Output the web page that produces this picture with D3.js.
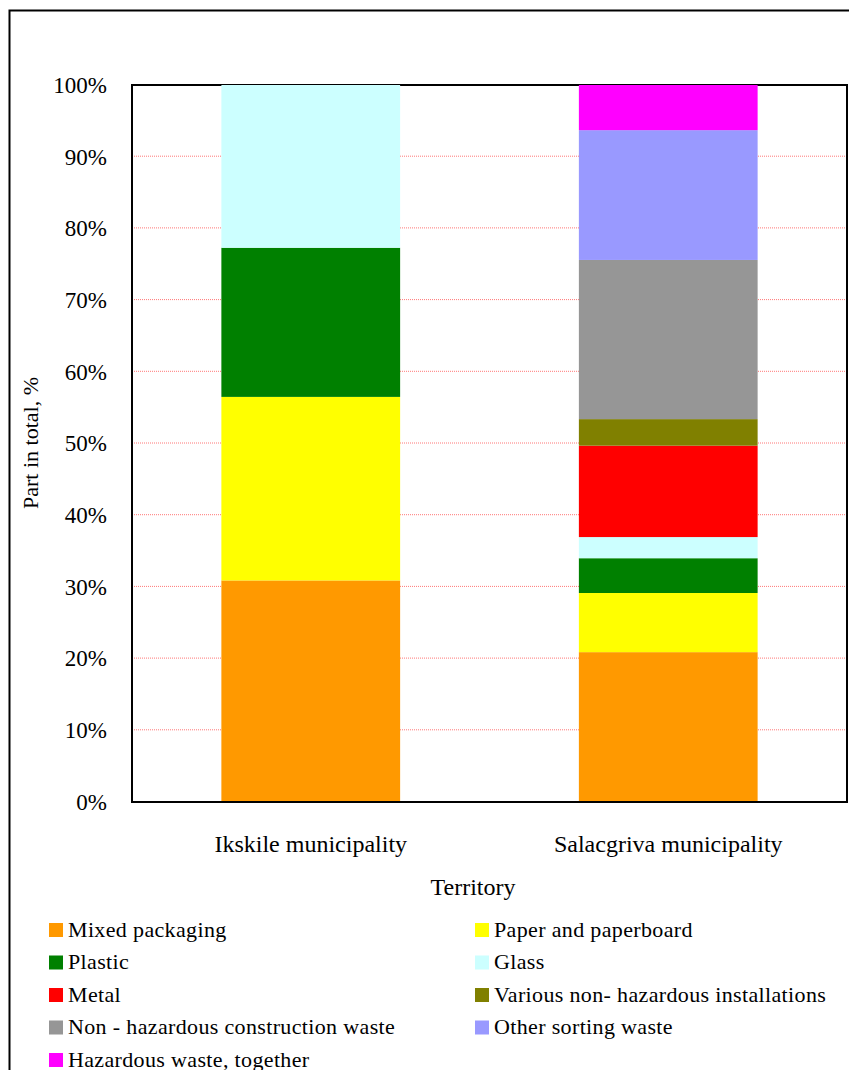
<!DOCTYPE html>
<html>
<head>
<meta charset="utf-8">
<script src="https://cdn.jsdelivr.net/npm/d3@7"></script>
<style>
  html, body { margin: 0; padding: 0; background: #fff; }
  svg { display: block; }
  svg text { font-family: "Liberation Serif", Tinos, "Times New Roman", Times, "DejaVu Serif", serif !important; fill: #000; }
</style>
</head>
<body>
<svg id="chart" width="849" height="1070"></svg>
<script>
// Territories on the x axis
const territories = ["Ikskile municipality", "Salacgriva municipality"];

// Waste fractions, bottom to top of each stack
const fractions = [
  "Mixed packaging",
  "Paper and paperboard",
  "Plastic",
  "Glass",
  "Metal",
  "Various non- hazardous installations",
  "Non - hazardous construction waste",
  "Other sorting waste",
  "Hazardous waste, together"
];

// Share of total, % (same order as fractions)
const ikskileShares    = [30.9, 25.6, 20.8, 22.7, 0, 0, 0, 0, 0];
const salacgrivaShares = [20.9, 8.25, 4.85, 2.95, 12.75, 3.7, 22.2, 18.1, 6.3];

const fractionColors = [
  "#ff9900", "#ffff00", "#008000", "#ccffff", "#ff0000",
  "#808000", "#969696", "#9999ff", "#ff00ff"
];

const yTicks = [0, 10, 20, 30, 40, 50, 60, 70, 80, 90, 100];

const svg = d3.select("#chart");

// outer frame
svg.append("rect")
  .attr("x", 9.5).attr("y", 10.5)
  .attr("width", 900).attr("height", 1100)
  .attr("fill", "none").attr("stroke", "#000").attr("stroke-width", 2);

const plot = { left: 132, top: 85, right: 847, bottom: 802 };

const x = d3.scaleBand()
  .domain(territories)
  .range([plot.left, plot.right])
  .paddingInner(0.5)
  .paddingOuter(0.25);

const y = d3.scaleLinear()
  .domain([0, 100])
  .range([plot.bottom, plot.top]);

const color = d3.scaleOrdinal().domain(fractions).range(fractionColors);

// grid lines
svg.append("g")
  .selectAll("line")
  .data(yTicks.filter(t => t > 0))
  .join("line")
  .attr("x1", plot.left).attr("x2", plot.right)
  .attr("y1", d => y(d) - 0.5).attr("y2", d => y(d) - 0.5)
  .attr("stroke", "#ff7777")
  .attr("stroke-width", 1)
  .attr("stroke-dasharray", "1,1");

// plot area border (right / top)
svg.append("rect")
  .attr("x", plot.left).attr("y", plot.top)
  .attr("width", plot.right - plot.left).attr("height", plot.bottom - plot.top)
  .attr("fill", "none").attr("stroke", "#000").attr("stroke-width", 2);

// stacked data
const rows = territories.map((t, i) => {
  const vals = i === 0 ? ikskileShares : salacgrivaShares;
  const r = { territory: t };
  fractions.forEach((f, j) => r[f] = vals[j]);
  return r;
});
const stacked = d3.stack().keys(fractions)(rows);

svg.append("g")
  .selectAll("g")
  .data(stacked)
  .join("g")
  .attr("fill", d => color(d.key))
  .selectAll("rect")
  .data(d => d.filter(s => s[1] - s[0] > 0))
  .join("rect")
  .attr("x", d => x(d.data.territory))
  .attr("width", x.bandwidth())
  .attr("y", d => y(d[1]))
  .attr("height", d => y(d[0]) - y(d[1]));

// axes lines
svg.append("line")
  .attr("x1", plot.left).attr("x2", plot.left)
  .attr("y1", plot.top).attr("y2", plot.bottom + 1)
  .attr("stroke", "#000").attr("stroke-width", 2);
svg.append("line")
  .attr("x1", plot.left - 1).attr("x2", plot.right)
  .attr("y1", plot.bottom).attr("y2", plot.bottom)
  .attr("stroke", "#000").attr("stroke-width", 2);

// y axis labels
const yAxis = d3.axisLeft(y)
  .tickValues(yTicks)
  .tickFormat(d => d + "%")
  .tickSize(0)
  .tickPadding(25);
const ya = svg.append("g")
  .attr("transform", `translate(${plot.left},0)`)
  .call(yAxis);
ya.select(".domain").remove();
ya.selectAll("text")
  .attr("font-size", 23)
  .attr("fill", "#000");

// x axis labels
const xAxis = d3.axisBottom(x).tickSize(0);
const xa = svg.append("g")
  .attr("transform", `translate(0,${plot.bottom})`)
  .call(xAxis);
xa.select(".domain").remove();
xa.selectAll("text")
  .attr("y", 50)
  .attr("dy", 0)
  .attr("font-size", 24)
  .attr("fill", "#000");

// axis titles
svg.append("text")
  .attr("transform", "translate(38,443) rotate(-90)")
  .attr("text-anchor", "middle")
  .attr("font-size", 22)
  .text("Part in total, %");

svg.append("text")
  .attr("x", 473).attr("y", 895)
  .attr("text-anchor", "middle")
  .attr("font-size", 24)
  .text("Territory");

// legend: two columns
const legend = svg.append("g");
const legendItems = legend.selectAll("g")
  .data(fractions)
  .join("g")
  .attr("transform", (d, i) => {
    const col = i % 2, row = Math.floor(i / 2);
    return `translate(${col === 0 ? 49 : 475},${923 + row * 32.5})`;
  });
legendItems.append("rect")
  .attr("width", 14).attr("height", 14)
  .attr("fill", d => color(d));
legendItems.append("text")
  .attr("x", 19).attr("y", 13.5)
  .attr("font-size", 22)
  .attr("letter-spacing", 0.35)
  .text(d => d);
</script>
</body>
</html>
